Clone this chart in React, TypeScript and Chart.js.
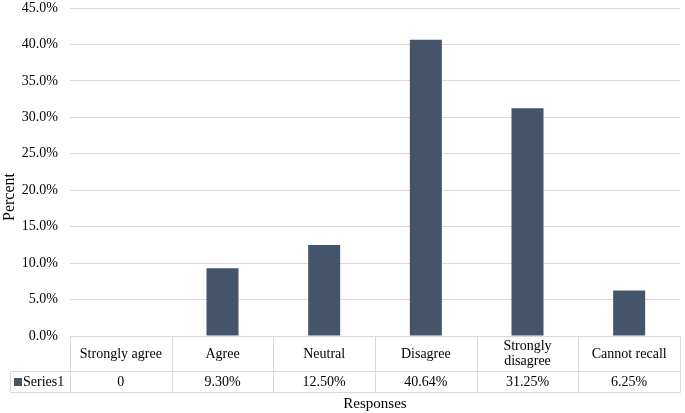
import React, { useEffect, useRef } from "react";
import { Chart, registerables } from "chart.js";

Chart.register(...registerables);

const categories = ["Strongly agree", "Agree", "Neutral", "Disagree", "Strongly disagree", "Cannot recall"];
const seriesName = "Series1";
const values = [0, 0.093, 0.125, 0.4064, 0.3125, 0.0625];
const tableLabels = ["0", "9.30%", "12.50%", "40.64%", "31.25%", "6.25%"];
const yTicksMax = 0.45;
const yTicksStep = 0.05;
const xTitle = "Responses";
const yTitle = "Percent";
const barColor = "#44546a";
const gridColor = "#d9d9d9";
const fontFamily = "'Liberation Serif', 'Times New Roman', serif";

const tablePlugin = {
  id: "dataTable",
  afterDraw(chart: any) {
    const ctx = chart.ctx;
    const x = chart.scales.x;
    const area = chart.chartArea;
    const n = categories.length;
    const left = area.left;
    const right = area.right;
    const colW = (right - left) / n;
    const top = area.bottom;
    const headerBottom = top + 35;
    const rowBottom = headerBottom + 21;
    const legendLeft = 10;

    ctx.save();
    ctx.strokeStyle = gridColor;
    ctx.lineWidth = 1;
    const line = (x1: number, y1: number, x2: number, y2: number) => {
      ctx.beginPath();
      ctx.moveTo(Math.round(x1) + 0.5, Math.round(y1) + 0.5);
      ctx.lineTo(Math.round(x2) + 0.5, Math.round(y2) + 0.5);
      ctx.stroke();
    };
    line(left, top, right, top);
    line(legendLeft, headerBottom, right, headerBottom);
    line(legendLeft, rowBottom, right, rowBottom);
    line(legendLeft, headerBottom, legendLeft, rowBottom);
    for (let i = 0; i <= n; i++) {
      const bx = left + i * colW;
      line(bx, top, bx, rowBottom);
    }

    ctx.fillStyle = "#000";
    ctx.font = `14px ${fontFamily}`;
    ctx.textAlign = "center";
    ctx.textBaseline = "middle";
    categories.forEach((c, i) => {
      const cx = x.getPixelForValue(i);
      const maxW = colW - 12;
      if (ctx.measureText(c).width > maxW) {
        const words = c.split(" ");
        const l1 = words.slice(0, Math.ceil(words.length / 2)).join(" ");
        const l2 = words.slice(Math.ceil(words.length / 2)).join(" ");
        const mid = (top + headerBottom) / 2;
        ctx.fillText(l1, cx, mid - 7.5);
        ctx.fillText(l2, cx, mid + 8);
      } else {
        ctx.fillText(c, cx, (top + headerBottom) / 2 + 1);
      }
      ctx.fillText(tableLabels[i], cx, (headerBottom + rowBottom) / 2 + 1);
    });

    // legend key
    const my = (headerBottom + rowBottom) / 2;
    ctx.fillStyle = barColor;
    ctx.fillRect(legendLeft + 4, Math.round(my) - 4, 8, 8);
    ctx.fillStyle = "#000";
    ctx.textAlign = "left";
    ctx.fillText(seriesName, legendLeft + 13, my + 1);

    // axis titles
    ctx.font = `15px ${fontFamily}`;
    ctx.textAlign = "center";
    ctx.fillText(xTitle, (left + right) / 2, rowBottom + 12);

    ctx.font = `16px ${fontFamily}`;
    ctx.translate(10, (area.top + rowBottom) / 2 - 3);
    ctx.rotate(-Math.PI / 2);
    ctx.fillText(yTitle, 0, 0);
    ctx.restore();
  },
};

export default function App() {
  const ref = useRef<HTMLCanvasElement | null>(null);
  useEffect(() => {
    if (!ref.current) return;
    const chart = new Chart(ref.current, {
      type: "bar",
      data: {
        labels: categories,
        datasets: [
          {
            label: seriesName,
            data: values,
            backgroundColor: barColor,
            categoryPercentage: 1,
            barPercentage: 0.315,
          },
        ],
      },
      options: {
        animation: false,
        responsive: true,
        maintainAspectRatio: false,
        layout: { padding: { left: 0, right: 5, top: 8, bottom: 77 } },
        plugins: { legend: { display: false }, tooltip: { enabled: false } },
        scales: {
          x: { display: false },
          y: {
            min: 0,
            max: yTicksMax,
            afterFit: (s: any) => {
              s.width = 70;
              s.paddingTop = 0;
              s.paddingBottom = 0;
            },
            ticks: {
              stepSize: yTicksStep,
              padding: 12,
              color: "#000",
              font: { family: fontFamily, size: 14 },
              callback: (v: any) => (Number(v) * 100).toFixed(1) + "%",
            },
            grid: { color: gridColor, drawTicks: false },
            border: { display: false },
            title: { display: false },
          },
        },
      },
      plugins: [tablePlugin],
    });
    return () => chart.destroy();
  }, []);
  return (
    <div style={{ position: "absolute", left: 0, top: 0, width: 685, height: 413, background: "#fff" }}>
      <canvas ref={ref} />
    </div>
  );
}
